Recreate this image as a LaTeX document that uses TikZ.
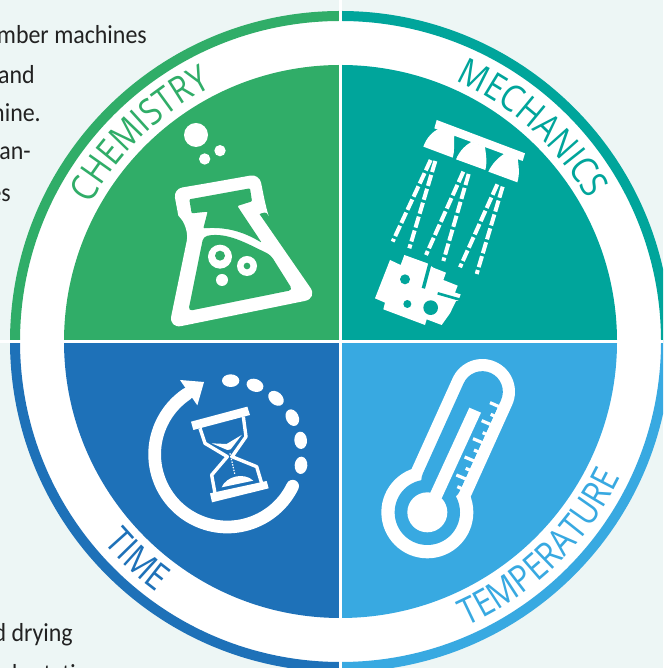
\documentclass[tikz,border=0pt]{standalone}
\usepackage{fontspec}
\usetikzlibrary{decorations.text}
\setmainfont[FakeStretch=0.92]{Carlito}
\newfontfamily\lab[FakeStretch=0.86]{Open Sans}
\definecolor{bgc}{HTML}{EDF6F5}
\definecolor{cgreen}{HTML}{30AD68}
\definecolor{cteal}{HTML}{00A59B}
\definecolor{cdark}{HTML}{1E71B8}
\definecolor{clight}{HTML}{38A9E1}
\definecolor{txt}{HTML}{222222}
\tikzset{
  body/.style={anchor=base east,text=txt,font=\fontsize{26}{26}\selectfont,inner sep=0pt},
  ringarc/.style={line width=10pt},
  spray/.style={draw=white,line width=4pt,dash pattern=on 11.5pt off 3pt},
}
\newcommand{\arclabel}[6]{% colour, radius, start, end, text, size
  \path[shift={(340.5,326.5)},decorate,decoration={text along path,text align=center,
    text={|\lab\fontsize{#6}{#6}\selectfont\color{#1}|#5}}]
    (#3:#2) arc[start angle=#3,end angle=#4,radius=#2];
}
\begin{document}
\begin{tikzpicture}[x=1pt,y=1pt]
\useasboundingbox (0,0) rectangle (663,668);
\clip (0,0) rectangle (663,668);
\fill[bgc] (0,0) rectangle (663,668);
% body text
\node[body] (t1) at (147,624) {amber machines};
\node[body] (t2) at (35,584) {and};
\node[body] (t3) at (41,546) {nine.};
\node[body] (t4) at (31,508) {an-};
\node[body] (t5) at (11,466) {es};
\node[body] (t6) at (73,26) {d drying};
\node[body] (t7) at (76,-14) {d rotati};
\begin{scope}[shift={(0,668)},yscale=-1]
\def\cx{340.5}\def\cy{341.5}
% disc and ring
\fill[white] (\cx,\cy) circle[radius=325.5];
\draw[ringarc,cdark]  (\cx-325.5,\cy) arc[start angle=180,end angle=90,radius=325.5];
\draw[ringarc,clight] (\cx+325.5,\cy) arc[start angle=0,end angle=90,radius=325.5];
\draw[ringarc,cgreen] (\cx-325.5,\cy) arc[start angle=180,end angle=270,radius=325.5];
\draw[ringarc,cteal]  (\cx+325.5,\cy) arc[start angle=0,end angle=-90,radius=325.5];
% quadrants
\fill[cgreen] (\cx,\cy) -- (\cx-276.5,\cy) arc[start angle=180,end angle=270,radius=276.5] -- cycle;
\fill[cteal]  (\cx,\cy) -- (\cx+276.5,\cy) arc[start angle=0,end angle=-90,radius=276.5] -- cycle;
\fill[cdark]  (\cx,\cy) -- (\cx-276.5,\cy) arc[start angle=180,end angle=90,radius=276.5] -- cycle;
\fill[clight] (\cx,\cy) -- (\cx+276.5,\cy) arc[start angle=0,end angle=90,radius=276.5] -- cycle;
\draw[white,line width=3pt] (\cx,0) -- (\cx,672);
\draw[white,line width=3pt] (0,\cy) -- (672,\cy);
% flask
\begin{scope}[shift={(140,100)},scale=1/3]
\fill[white] (168,105) circle[radius=36];
\fill[white] (240,152) circle[radius=17];
\fill[white] (194,177) circle[radius=17];
\fill[white,rounded corners=9pt] (200,250) -- (358,222) -- (378,322) [sharp corners] .. controls (381,332) and (370,338) .. (358,342) [rounded corners=13pt] -- (533,595) -- (86,686) -- (148,385) [sharp corners] -- (115,347) [rounded corners=9pt] -- (100,267) -- cycle;
\fill[cgreen,rounded corners=1pt] (148,298) -- (330,265) -- (336,304) -- (292,318) -- (365,428) .. controls (310,395) and (260,380) .. (190,385) -- (203,335) -- (155,340) -- cycle;
\fill[cgreen,rounded corners=4pt] (190,410) .. controls (260,395) and (320,430) .. (392,465) -- (458,570) -- (145,633) -- cycle;
\fill[white] (240,470) circle[radius=36];
\fill[cgreen] (240,467) circle[radius=15];
\fill[white] (321,498) circle[radius=30];
\fill[cgreen] (321,498) circle[radius=10];
\fill[white] (246,540) circle[radius=18];
\end{scope}
% sprinkler
\begin{scope}[shift={(360,100)},scale=1/3]
\fill[white] (230,60) -- (495,160) -- (488,183) -- (223,85) -- cycle;
\fill[white] (190,140) .. controls (200,112) and (218,95) .. (238,85) -- (283,105) .. controls (281,130) and (285,150) .. (278,173) -- cycle;
\fill[white] (288,178) .. controls (300,150) and (318,135) .. (335,125) -- (375,140) .. controls (378,165) and (382,185) .. (376,210) -- cycle;
\fill[white] (385,215) .. controls (397,190) and (415,172) .. (435,160) -- (473,175) .. controls (476,200) and (480,220) .. (472,247) -- cycle;
\draw[spray] (212,180) -- (98,425);
\draw[spray] (226,183) -- (148,445);
\draw[spray] (310,215) -- (198,465);
\draw[spray] (326,222) -- (250,483);
\draw[spray] (412,253) -- (300,502);
\draw[spray] (428,260) -- (350,522);
\fill[white] (90,480) -- (122,495) -- (133,465) -- (202,490) -- (220,503) -- (258,518) -- (250,540) -- (293,557) -- (285,578) -- (302,583) -- (295,603) -- (288,603) -- (270,640) -- (245,675) -- (200,658) -- (195,675) -- (70,628) -- (75,608) -- (45,595) -- cycle;
\draw[cteal,line width=3.4pt] (210,490) -- (190,565);
\draw[cteal,line width=2.6pt] (233,580) -- (303,600);
\fill[cteal] (135,538) circle[radius=15];
\fill[cteal] (142,612) circle[radius=12];
\fill[cteal] (212,623) circle[radius=22];
\end{scope}
% hourglass and clock arrow
\begin{scope}[shift={(140,360)},scale=1/3]
\draw[white,line width=12.7pt,line cap=round] (262,283)++(26:218) arc[start angle=26,end angle=236,radius=218];
\fill[white] (120,60) -- (192,66) -- (172,136) -- cycle;
\fill[white] (272,62) ellipse[x radius=26,y radius=19,rotate=0];
\fill[white] (345,76) ellipse[x radius=26,y radius=19,rotate=20];
\fill[white] (408,115) ellipse[x radius=26,y radius=19,rotate=42];
\fill[white] (457,173) ellipse[x radius=26,y radius=19,rotate=65];
\fill[white] (482,241) ellipse[x radius=26,y radius=19,rotate=85];
\fill[white] (483,316) ellipse[x radius=26,y radius=19,rotate=95];
\fill[white] (153,185) -- (322,140) -- (330,165) -- (160,210) -- cycle;
\fill[white] (210,400) -- (380,363) -- (386,385) -- (216,427) -- cycle;
\draw[white,line width=3.4pt,line join=round] (180,205) -- (195,250) -- (262,290) -- (215,345) -- (225,400);
\draw[white,line width=3.4pt,line join=round] (310,170) -- (318,230) -- (276,290) -- (350,320) -- (365,370);
\fill[white] (215,250) -- (260,252) -- (305,225) -- (272,268) -- (262,270) -- cycle;
\draw[white,line width=1.2pt,dash pattern=on 1.4pt off 1.4pt] (270,280) -- (285,345);
\fill[white] (245,382) .. controls (258,350) and (310,335) .. (340,362) -- cycle;
\end{scope}
% thermometer
\begin{scope}[shift={(370,350)},scale=1/3]
\draw[white,line width=65.3pt,line cap=round] (215,395) -- (337,125);
\fill[white] (172,487) circle[radius=138];
\draw[clight,line width=41pt,line cap=round] (215,395) -- (337,125);
\fill[clight] (172,487) circle[radius=98];
\fill[white] (172,487) circle[radius=60];
\fill[white] (298,173) -- (333,188) -- (215,445) -- (180,430) -- cycle;
% scale on the wall
\fill[white] (385,170) -- (397,175) -- (275,445) -- (263,440) -- cycle;
\draw[white,line width=3.2pt] (360,158) -- (392,172);
\draw[white,line width=3.2pt] (362,193) -- (380,201);
\draw[white,line width=3.2pt] (335,212) -- (368,226);
\draw[white,line width=3.2pt] (338,248) -- (356,256);
\draw[white,line width=3.2pt] (309,266) -- (342,280);
\draw[white,line width=3.2pt] (312,300) -- (330,308);
\draw[white,line width=3.2pt] (284,321) -- (317,335);
\draw[white,line width=3.2pt] (287,355) -- (305,363);
\draw[white,line width=3.2pt] (259,375) -- (292,389);
\draw[white,line width=3.2pt] (262,410) -- (280,418);
\end{scope}
\end{scope}
% ring labels
\arclabel{cgreen}{285}{174}{94}{CHEMISTRY}{37}
\arclabel{cteal}{285}{88}{8}{MECHANICS}{37}
\arclabel{cdark}{311}{187}{267}{TIME}{37}
\arclabel{clight}{311}{272}{356}{TEMPERATURE}{37}
\end{tikzpicture}
\end{document}
